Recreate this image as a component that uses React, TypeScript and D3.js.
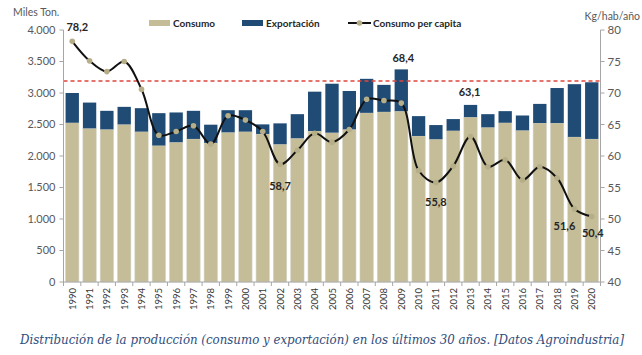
import React from "react";
import * as d3 from "d3";

const years = d3.range(1990, 2021).map(String);
const consumo = [2528, 2439, 2423, 2502, 2387, 2166, 2219, 2271, 2208, 2376, 2387, 2350, 2187, 2282, 2397, 2371, 2423, 2685, 2701, 2712, 2318, 2266, 2402, 2617, 2455, 2528, 2407, 2523, 2523, 2303, 2271];
const total = [3000, 2848, 2717, 2780, 2759, 2680, 2691, 2717, 2497, 2727, 2727, 2502, 2518, 2664, 3021, 3147, 3032, 3225, 3129, 3375, 2633, 2491, 2586, 2811, 2664, 2712, 2643, 2827, 3079, 3140, 3170];
const exportacion = total.map((t, i) => t - consumo[i]);
const perCapita = [78.2, 75.1, 73.4, 75.0, 70.6, 63.3, 63.9, 64.8, 61.9, 66.4, 65.7, 63.9, 58.7, 60.9, 63.6, 62.2, 64.2, 69.0, 68.8, 68.4, 57.7, 55.8, 58.4, 63.1, 58.3, 59.4, 56.2, 58.3, 56.5, 51.6, 50.4];
const referenceLevel = 3190;
const leftTicks = d3.range(0, 4001, 500);
const rightTicks = d3.range(40, 81, 5);
// labelled points: year, dx, dy (offset from point)
const pointLabels: [string, number, number][] = [
  ["1990", 5, -14],
  ["2002", 0, 22],
  ["2009", 2, -45],
  ["2011", 0, 20],
  ["2013", -1, -44],
  ["2019", -10, 17],
  ["2020", 1, 17],
];

const TAN = "#c4bd98";
const BLUE = "#1f4b75";
const MARK = "#b6ae88";
const AX = "#a6a6a6";
const TXT = "#595959";
const FONT = "Lato, 'Open Sans', sans-serif";

const loc = d3.formatLocale({ decimal: ",", thousands: ".", grouping: [3], currency: ["", ""] });
const fmtL = loc.format(",d");
const fmtV = loc.format(",.1f");

export default function App() {
  const W = 642, H = 355;
  const x0 = 63.5, x1 = 600.5, yTop = 30, yBot = 282;
  const x = d3.scaleBand<string>().domain(years).range([x0, x1]).paddingInner(0.23).paddingOuter(0.12);
  const yL = d3.scaleLinear().domain([0, 4000]).range([yBot, yTop]);
  const yR = d3.scaleLinear().domain([40, 80]).range([yBot, yTop]);
  const step = (x1 - x0) / years.length;
  const cx = (y: string) => (x(y) as number) + x.bandwidth() / 2;

  const line = d3.line<number>()
    .x((_, i) => cx(years[i]))
    .y((d) => yR(d))
    .curve(d3.curveCatmullRom.alpha(0.5));

  return (
    <svg width={W} height={H} style={{ position: "absolute", left: 0, top: 0, background: "#fff" }} fontFamily={FONT}>
      {/* bars */}
      {years.map((yr, i) => (
        <g key={yr}>
          <rect x={x(yr)} y={yL(consumo[i])} width={x.bandwidth()} height={yBot - yL(consumo[i])} fill={TAN} stroke="#d6d3c6" strokeWidth={0.6} />
          <rect x={x(yr)} y={yL(total[i])} width={x.bandwidth()} height={yL(consumo[i]) - yL(total[i])} fill={BLUE} />
        </g>
      ))}
      {/* reference dashed line */}
      <line x1={x0} x2={x1} y1={yL(referenceLevel)} y2={yL(referenceLevel)} stroke="#e0463c" strokeWidth={1.4} strokeDasharray="4,3" />
      {/* axes */}
      <line x1={x0} x2={x0} y1={yTop} y2={yBot} stroke={AX} />
      <line x1={x1} x2={x1} y1={yTop} y2={yBot} stroke={AX} />
      <line x1={x0} x2={x1} y1={yBot} y2={yBot} stroke={AX} />
      {leftTicks.map((t) => (
        <g key={"l" + t}>
          <line x1={x0 - 4} x2={x0} y1={yL(t)} y2={yL(t)} stroke={AX} />
          <text x={x0 - 8} y={yL(t)} dy="0.35em" textAnchor="end" fontSize={11} fill={TXT}>{fmtL(t)}</text>
        </g>
      ))}
      {rightTicks.map((t) => (
        <g key={"r" + t}>
          <line x1={x1} x2={x1 + 4} y1={yR(t)} y2={yR(t)} stroke={AX} />
          <text x={x1 + 7} y={yR(t)} dy="0.35em" textAnchor="start" fontSize={11.5} fill={TXT}>{t}</text>
        </g>
      ))}
      {d3.range(years.length + 1).map((k) => (
        <line key={"t" + k} x1={x0 + k * step} x2={x0 + k * step} y1={yBot} y2={yBot + 4} stroke={AX} />
      ))}
      {years.map((yr) => (
        <text key={"y" + yr} transform={`translate(${cx(yr) + 3.5},${yBot + 6}) rotate(-90)`} textAnchor="end" fontSize={9.5} fill="#3a3a3a">{yr}</text>
      ))}
      <text x={13} y={16} fontSize={10.5} fill={TXT}>Miles Ton.</text>
      <text x={640} y={20} textAnchor="end" fontSize={10.5} fill={TXT}>Kg/hab/año</text>

      {/* per capita line */}
      <path d={line(perCapita) as string} fill="none" stroke="#111" strokeWidth={2} />
      {perCapita.map((v, i) => (
        <circle key={"c" + i} cx={cx(years[i])} cy={yR(v)} r={2.8} fill={MARK} />
      ))}
      {pointLabels.map(([yr, dx, dy]) => {
        const i = years.indexOf(yr);
        return (
          <text key={"pl" + yr} x={cx(yr) + dx} y={yR(perCapita[i]) + dy} dy="0.35em" textAnchor="middle" fontSize={11} fontWeight="bold" fill="#262626">{fmtV(perCapita[i])}</text>
        );
      })}

      {/* legend */}
      <rect x={149} y={20} width={21} height={6} fill={TAN} />
      <text x={173} y={23} dy="0.35em" fontSize={10} fontWeight="bold" fill="#262626">Consumo</text>
      <rect x={242} y={20} width={21} height={6} fill={BLUE} />
      <text x={266} y={23} dy="0.35em" fontSize={10} fontWeight="bold" fill="#262626">Exportación</text>
      <line x1={348} x2={371} y1={23} y2={23} stroke="#111" strokeWidth={2} />
      <circle cx={359.5} cy={23} r={2.8} fill={MARK} />
      <text x={373} y={23} dy="0.35em" fontSize={10} fontWeight="bold" fill="#262626">Consumo per capita</text>

      {/* caption */}
      <text x={322} y={344} textAnchor="middle" fontSize={12} fontStyle="italic" fontFamily="'DejaVu Serif', serif" fill="#2f4d7c" textLength={604} lengthAdjust="spacingAndGlyphs">
        Distribución de la producción (consumo y exportación) en los últimos 30 años. [Datos Agroindustria]
      </text>
    </svg>
  );
}
